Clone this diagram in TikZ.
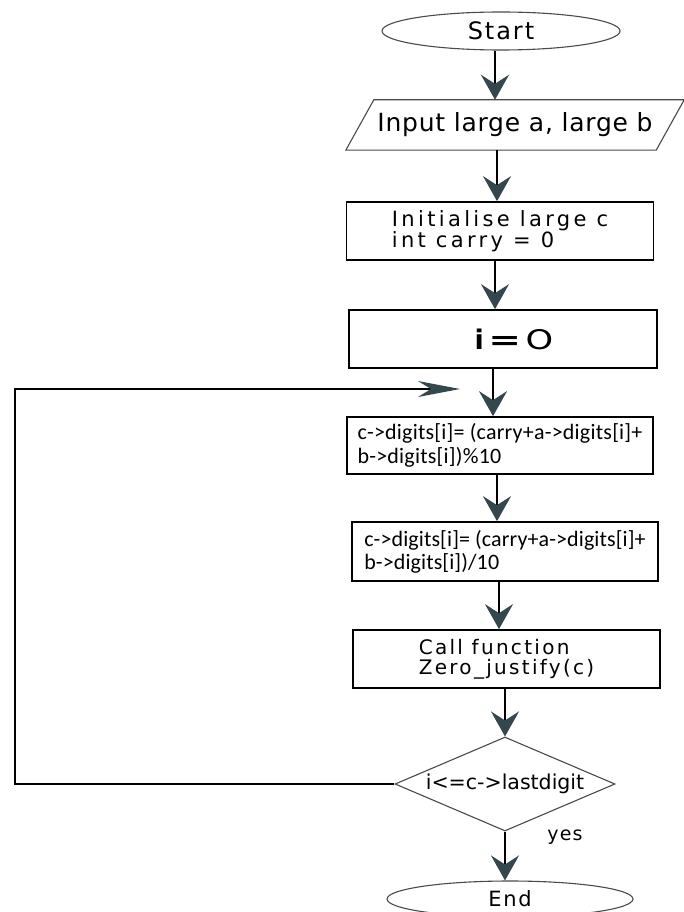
\documentclass[tikz,border=0pt]{standalone}
\usepackage{fontspec}
\setmainfont{DejaVu Sans}
\newfontfamily\carl{Carlito}
\usetikzlibrary{shapes.geometric,arrows.meta}
\definecolor{headc}{HTML}{34464E}
\definecolor{thinc}{HTML}{4A4A4A}
\begin{document}
\begin{tikzpicture}[x=1pt,y=-1pt,
  box/.style={draw=black,line width=1.7pt,rectangle,inner sep=0pt,align=left},
  term/.style={draw=thinc,line width=1.1pt,ellipse,inner sep=0pt},
  flow/.style={line width=2.2pt,draw=black,-{Stealth[length=25pt,width=28pt,inset=9pt,color=headc]}},
  loopline/.style={line width=1.9pt,draw=black,-{Stealth[length=42pt,width=16pt,inset=13pt,color=headc]}},
  thin/.style={draw=thinc,line width=1.1pt}
]
\useasboundingbox (0,0) rectangle (683,912);
\fill[white] (0,0) rectangle (683,912);

\node[term,minimum width=238,minimum height=38,
  font={\fontsize{24}{26}\selectfont\addfontfeature{LetterSpace=8}}] (start) at (501,31) {Start};

\node[inner sep=0pt,minimum width=338,minimum height=50,
  font={\fontsize{25}{27}\selectfont\addfontfeature{LetterSpace=3}}] (input) at (515,125) {Input large a, large b};
\draw[thin] (input.south west) -- ([xshift=-28pt]input.south east) -- (input.north east) -- ([xshift=28pt]input.north west) -- cycle;

\node[box,minimum width=307,minimum height=58,
  font={\fontsize{21}{21}\selectfont\addfontfeature{LetterSpace=16}}] (init) at (500,231) {Initialise large c\\int carry = 0};

\node[box,minimum width=308,minimum height=58,
  font={\fontsize{27}{28}\selectfont}] (izero) at (503,339) {\hspace{22pt}{\bfseries i}\,\scalebox{1.45}[1]{\bfseries =}\,\scalebox{1.3}[1]{O}};

\node[box,minimum width=306,minimum height=57,
  font={\carl\fontsize{22}{23.5}\selectfont\addfontfeature{LetterSpace=1}}] (sum) at (500,445.5) {c->digits[i]= (carry+a->digits[i]+\\b->digits[i])\%10};

\node[box,minimum width=306,minimum height=59,
  font={\carl\fontsize{22}{23}\selectfont\addfontfeature{LetterSpace=0.5}}] (carry) at (505,551.5) {c->digits[i]= (carry+a->digits[i]+\\b->digits[i])/10};

\node[box,minimum width=307,minimum height=58,
  font={\fontsize{20}{20}\selectfont\addfontfeature{LetterSpace=11.5}}] (call) at (506.5,659) {Call function\\Zero\_justify(c)};

\node[diamond,thin,inner sep=0pt,aspect=2.34,minimum width=220,minimum height=94,
  font={\fontsize{20.5}{22}\selectfont}] (dec) at (505,784) {i<=c->lastdigit};

\node[term,minimum width=246,minimum height=36,
  font={\fontsize{21}{22}\selectfont\addfontfeature{LetterSpace=8}}] (end) at (510,899) {End};

\node[inner sep=0pt,font={\fontsize{19}{20}\selectfont\addfontfeature{LetterSpace=6}}] (yes) at (565,837) {yes};

\coordinate (lc) at (15,389);
\coordinate (lt) at (460,389);

\draw[flow] ([xshift=-6pt]start.south) -- ([xshift=-6pt]start.south |- input.north);
\draw[flow] ([xshift=-3pt]init.north |- input.south) -- ([xshift=-3pt]init.north);
\draw[flow] ([xshift=-5pt]init.south) -- ([xshift=-5pt]init.south |- izero.north);
\draw[flow] ([xshift=-10pt]izero.south) -- ([xshift=-10pt]izero.south |- sum.north);
\draw[flow] ([xshift=-3pt]sum.south) -- ([xshift=-3pt]sum.south |- carry.north);
\draw[flow] ([xshift=-6pt]carry.south) -- ([xshift=-6pt]carry.south |- call.north);
\draw[flow] (call.south -| dec.north) -- (dec.north);
\draw[flow] (dec.south) -- (dec.south |- end.north);

\draw[loopline] (dec.west) -| (lc) -- (lt);
\end{tikzpicture}
\end{document}
